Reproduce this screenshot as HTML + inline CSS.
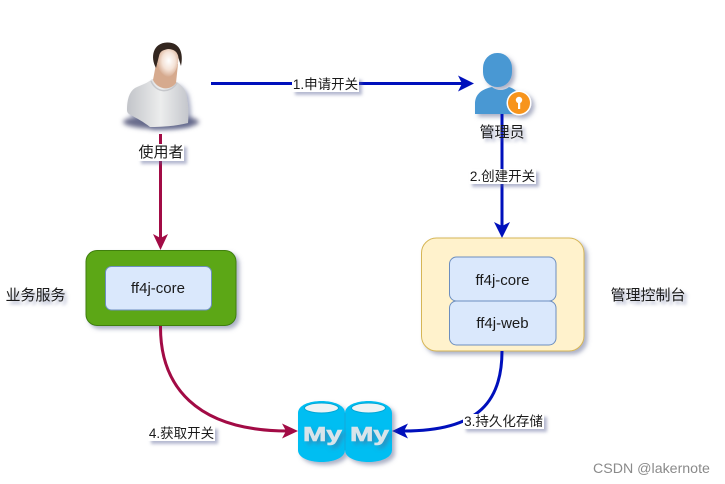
<!DOCTYPE html>
<html>
<head>
<meta charset="utf-8">
<style>
html,body{margin:0;padding:0;background:#fff}
#c{position:relative;width:725px;height:484px;overflow:hidden;background:#fff;font-family:"Liberation Sans","Noto Sans CJK SC",sans-serif;color:#1a1a1a}
svg{position:absolute;left:0;top:0}
.t{position:absolute;font-size:13.500px;line-height:15px;white-space:nowrap;text-align:center}
.b{font-size:15px;line-height:17px}
.l{background:#fff;box-shadow:3px 3px 3px rgba(90,100,150,.45)}
.s{text-shadow:3px 3px 3px rgba(90,100,150,.55)}
</style>
</head>
<body>
<div id="c">
<svg width="725" height="484" viewBox="0 0 725 484">
<defs>
<filter id="sh" x="-20%" y="-20%" width="150%" height="150%"><feDropShadow dx="3" dy="3" stdDeviation="2" flood-color="#5a648c" flood-opacity=".5"/></filter>
<filter id="bl" x="-30%" y="-100%" width="160%" height="300%"><feGaussianBlur stdDeviation="2.500"/></filter>
<radialGradient id="face" cx=".55" cy=".45" r=".6"><stop offset="0" stop-color="#fff"/><stop offset=".5" stop-color="#f5e3d7"/><stop offset="1" stop-color="#cf9f82"/></radialGradient>
<linearGradient id="shirt" x1="0" x2="1" y1="0" y2="0"><stop offset="0" stop-color="#c2c4c9"/><stop offset=".55" stop-color="#eceded"/><stop offset="1" stop-color="#c4c6cc"/></linearGradient>
</defs>

<!-- user -->
<ellipse cx="161" cy="122" rx="38" ry="7" fill="#6a6d8c" filter="url(#bl)"/>
<g filter="url(#sh)">
<path d="M127 110C127 100 129 92 135 88C141 85 148 83 152 79L177 82C181 85 185 89 186 93C188 102 189 112 188 123C176 126 162 127 150 127C144 122 136 118 131 115C128 114 127 112 127 110Z" fill="url(#shirt)"/>
</g>
<path d="M156 64L153 80C158 90 170 91 176 83L178 64Z" fill="#d6aa8e"/>
<path d="M151 81C156 93 170 94 177 83" stroke="#c6c7cb" stroke-width="1.500" fill="none"/>
<path d="M158 52C155 62 158 74 168 77C175 76 180 64 178 52C174 46 162 46 158 52Z" fill="url(#face)"/>
<path d="M156 68C150 57 153 43 167 42.500C179 42 184 52 181 66L178.500 58C178 52 174 49 168 49C163 50 160 51 159 56C158 60 157 64 156 68Z" fill="#33261f"/>

<path d="M160.500 134V238" stroke="#a20b45" stroke-width="3" fill="none"/>
<polygon points="160.500,250 153,234 160.500,238 168,234" fill="#a20b45"/>

<!-- admin -->
<g filter="url(#sh)" fill="#4a98d3">
<rect x="483" y="53" width="29" height="34" rx="14" ry="15"/>
<path d="M475 114V104C475 94 482 89 492 87C497 91 504 91 509 87C512 88 514 89 516 91L513 114Z"/>
<circle cx="519" cy="103" r="12.500" fill="#fff" filter="none"/>
<circle cx="519" cy="103" r="11" fill="#f7941d"/>
</g>
<circle cx="519" cy="100" r="3.200" fill="#fff"/><rect x="518" y="101" width="2.200" height="8" fill="#fff"/>

<path d="M211 83.500H462" stroke="#0010bc" stroke-width="3" fill="none"/>
<polygon points="474,83.500 458,75.500 462,83.500 458,91.500" fill="#0010bc"/>
<path d="M502 114V226" stroke="#0010bc" stroke-width="3" fill="none"/>
<polygon points="502,238 494,222 502,226 510,222" fill="#0010bc"/>

<!-- boxes -->
<rect x="86" y="250.500" width="150" height="75" rx="11" fill="#5ca714" stroke="#3f7f0c" filter="url(#sh)"/>
<rect x="105.500" y="266.500" width="106" height="43.500" rx="6" fill="#dae8fc" stroke="#6c8ebf"/>
<rect x="421.500" y="238" width="162.500" height="113" rx="15" fill="#fff2cc" stroke="#d6b656" filter="url(#sh)"/>
<rect x="449.500" y="257" width="106.500" height="44" rx="7" fill="#dae8fc" stroke="#6c8ebf"/>
<rect x="449.500" y="301" width="106.500" height="44" rx="7" fill="#dae8fc" stroke="#6c8ebf"/>

<!-- curves -->
<path d="M160.500 326C160 385 195 431 288 431" stroke="#a20b45" stroke-width="3" fill="none"/>
<polygon points="298,431 282,423.500 286,431 282,438.500" fill="#a20b45"/>
<path d="M502 351C502 400 480 431 404 431" stroke="#0010bc" stroke-width="3" fill="none"/>
<polygon points="392,431 408,423.500 404,431 408,438.500" fill="#0010bc"/>

<!-- databases -->
<g filter="url(#sh)">
<path d="M298 413C298 397 345 397 345 413V450C345 466 298 466 298 450Z" fill="#00bef2"/>
<path d="M345 413C345 397 392 397 392 413V450C392 466 345 466 345 450Z" fill="#00bef2"/>
</g>
<ellipse cx="321.500" cy="408" rx="17" ry="5" fill="#eef3f5" stroke="#00a6d6"/>
<ellipse cx="368.500" cy="408" rx="17" ry="5" fill="#eef3f5" stroke="#00a6d6"/>
<path d="M345 413V450" stroke="#14a8da" stroke-width="1"/>
<g filter="url(#sh)">
<text x="303" y="441" textLength="39" lengthAdjust="spacingAndGlyphs" font-family="Liberation Sans" font-weight="700" font-size="20" fill="#d8e4ea" stroke="#d8e4ea" stroke-width=".6">My</text>
<text x="350" y="441" textLength="39" lengthAdjust="spacingAndGlyphs" font-family="Liberation Sans" font-weight="700" font-size="20" fill="#d8e4ea" stroke="#d8e4ea" stroke-width=".6">My</text>
</g>
</svg>

<div class="t l b" style="left:138px;top:144px;width:46px">使用者</div>
<div class="t s b" style="left:479px;top:124px;width:46px">管理员</div>
<div class="t l" style="left:292px;top:77px;width:67px">1.申请开关</div>
<div class="t l" style="left:469px;top:169px;width:67px">2.创建开关</div>
<div class="t l" style="left:463px;top:414px;width:81px">3.持久化存储</div>
<div class="t l" style="left:148px;top:426px;width:67px">4.获取开关</div>
<div class="t s b" style="left:5px;top:287px;width:61px">业务服务</div>
<div class="t s b" style="left:610px;top:287px;width:76px">管理控制台</div>
<div class="t b" style="left:105px;top:280px;width:106px">ff4j-core</div>
<div class="t b" style="left:449px;top:272px;width:107px">ff4j-core</div>
<div class="t b" style="left:449px;top:315px;width:107px">ff4j-web</div>
<div class="t" style="left:593px;top:461px;font-size:14.200px;line-height:16px;color:#8a8a8a">CSDN @lakernote</div>
</div>
</body>
</html>
